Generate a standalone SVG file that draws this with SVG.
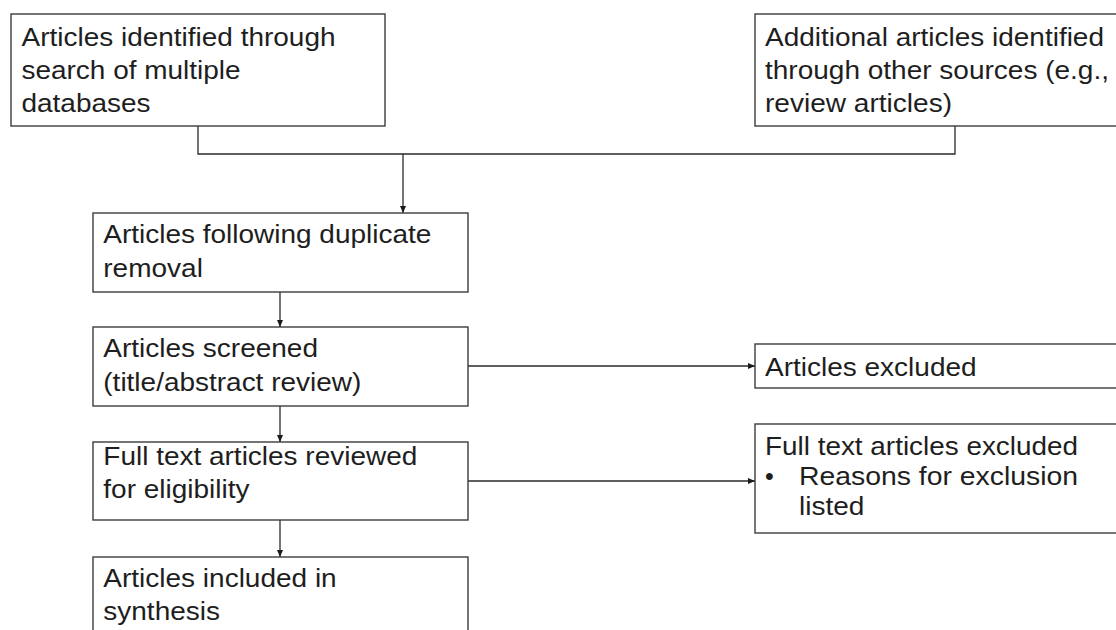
<svg xmlns="http://www.w3.org/2000/svg" width="1116" height="630" viewBox="0 0 1116 630">
  <defs>
    <marker id="arr" markerUnits="userSpaceOnUse" markerWidth="8" markerHeight="7" refX="7" refY="3.5" orient="auto">
      <path d="M0,0.5 L7,3.5 L0,6.5 z" fill="#1a1a1a"/>
    </marker>
    <style>
      .box { fill: #ffffff; stroke: #3c3c3c; stroke-width: 1.4; }
      .conn { fill: none; stroke: #2a2a2a; stroke-width: 1.3; }
      .t { font-family: "Liberation Sans", Arial, sans-serif; font-size: 25px; fill: #1e1e1e; }
    </style>
  </defs>
  <rect width="1116" height="630" fill="#ffffff"/>

  <g id="connectors">
    <path class="conn" d="M198,126 V154 H955 V126"/>
    <path class="conn" d="M403,154 V213" marker-end="url(#arr)"/>
    <path class="conn" d="M280,292 V327" marker-end="url(#arr)"/>
    <path class="conn" d="M280,406 V442" marker-end="url(#arr)"/>
    <path class="conn" d="M280,520 V557" marker-end="url(#arr)"/>
    <path class="conn" d="M468,366 H755" marker-end="url(#arr)"/>
    <path class="conn" d="M468,481 H755" marker-end="url(#arr)"/>
  </g>

  <g id="node-databases">
    <rect class="box" x="11" y="14" width="374" height="112"/>
    <text class="t" x="21.5" y="46" textLength="314" lengthAdjust="spacingAndGlyphs">Articles identified through</text>
    <text class="t" x="21.5" y="79" textLength="219" lengthAdjust="spacingAndGlyphs">search of multiple</text>
    <text class="t" x="21.5" y="112" textLength="129" lengthAdjust="spacingAndGlyphs">databases</text>
  </g>

  <g id="node-other-sources">
    <rect class="box" x="755" y="14" width="380" height="112"/>
    <text class="t" x="765" y="46" textLength="339" lengthAdjust="spacingAndGlyphs">Additional articles identified</text>
    <text class="t" x="765" y="79" textLength="344" lengthAdjust="spacingAndGlyphs">through other sources (e.g.,</text>
    <text class="t" x="765" y="112" textLength="187" lengthAdjust="spacingAndGlyphs">review articles)</text>
  </g>

  <g id="node-duplicates">
    <rect class="box" x="93" y="213" width="375" height="79"/>
    <text class="t" x="103.3" y="243" textLength="328" lengthAdjust="spacingAndGlyphs">Articles following duplicate</text>
    <text class="t" x="103.3" y="277" textLength="99.6" lengthAdjust="spacingAndGlyphs">removal</text>
  </g>

  <g id="node-screened">
    <rect class="box" x="93" y="327" width="375" height="79"/>
    <text class="t" x="103.3" y="357" textLength="214.7" lengthAdjust="spacingAndGlyphs">Articles screened</text>
    <text class="t" x="103.3" y="391" textLength="258" lengthAdjust="spacingAndGlyphs">(title/abstract review)</text>
  </g>

  <g id="node-fulltext">
    <rect class="box" x="93" y="442" width="375" height="78"/>
    <text class="t" x="103.3" y="465" textLength="314" lengthAdjust="spacingAndGlyphs">Full text articles reviewed</text>
    <text class="t" x="103.3" y="498" textLength="146.2" lengthAdjust="spacingAndGlyphs">for eligibility</text>
  </g>

  <g id="node-included">
    <rect class="box" x="93" y="557" width="375" height="90"/>
    <text class="t" x="103.3" y="587" textLength="233.4" lengthAdjust="spacingAndGlyphs">Articles included in</text>
    <text class="t" x="103.3" y="620" textLength="116.7" lengthAdjust="spacingAndGlyphs">synthesis</text>
  </g>

  <g id="node-excluded">
    <rect class="box" x="755" y="344" width="380" height="44"/>
    <text class="t" x="765" y="376" textLength="211.6" lengthAdjust="spacingAndGlyphs">Articles excluded</text>
  </g>

  <g id="node-fulltext-excluded">
    <rect class="box" x="755" y="424" width="380" height="109"/>
    <text class="t" x="765" y="455" textLength="313" lengthAdjust="spacingAndGlyphs">Full text articles excluded</text>
    <text class="t" x="765" y="485">•</text>
    <text class="t" x="799" y="485" textLength="279" lengthAdjust="spacingAndGlyphs">Reasons for exclusion</text>
    <text class="t" x="799" y="515" textLength="65.4" lengthAdjust="spacingAndGlyphs">listed</text>
  </g>
</svg>
